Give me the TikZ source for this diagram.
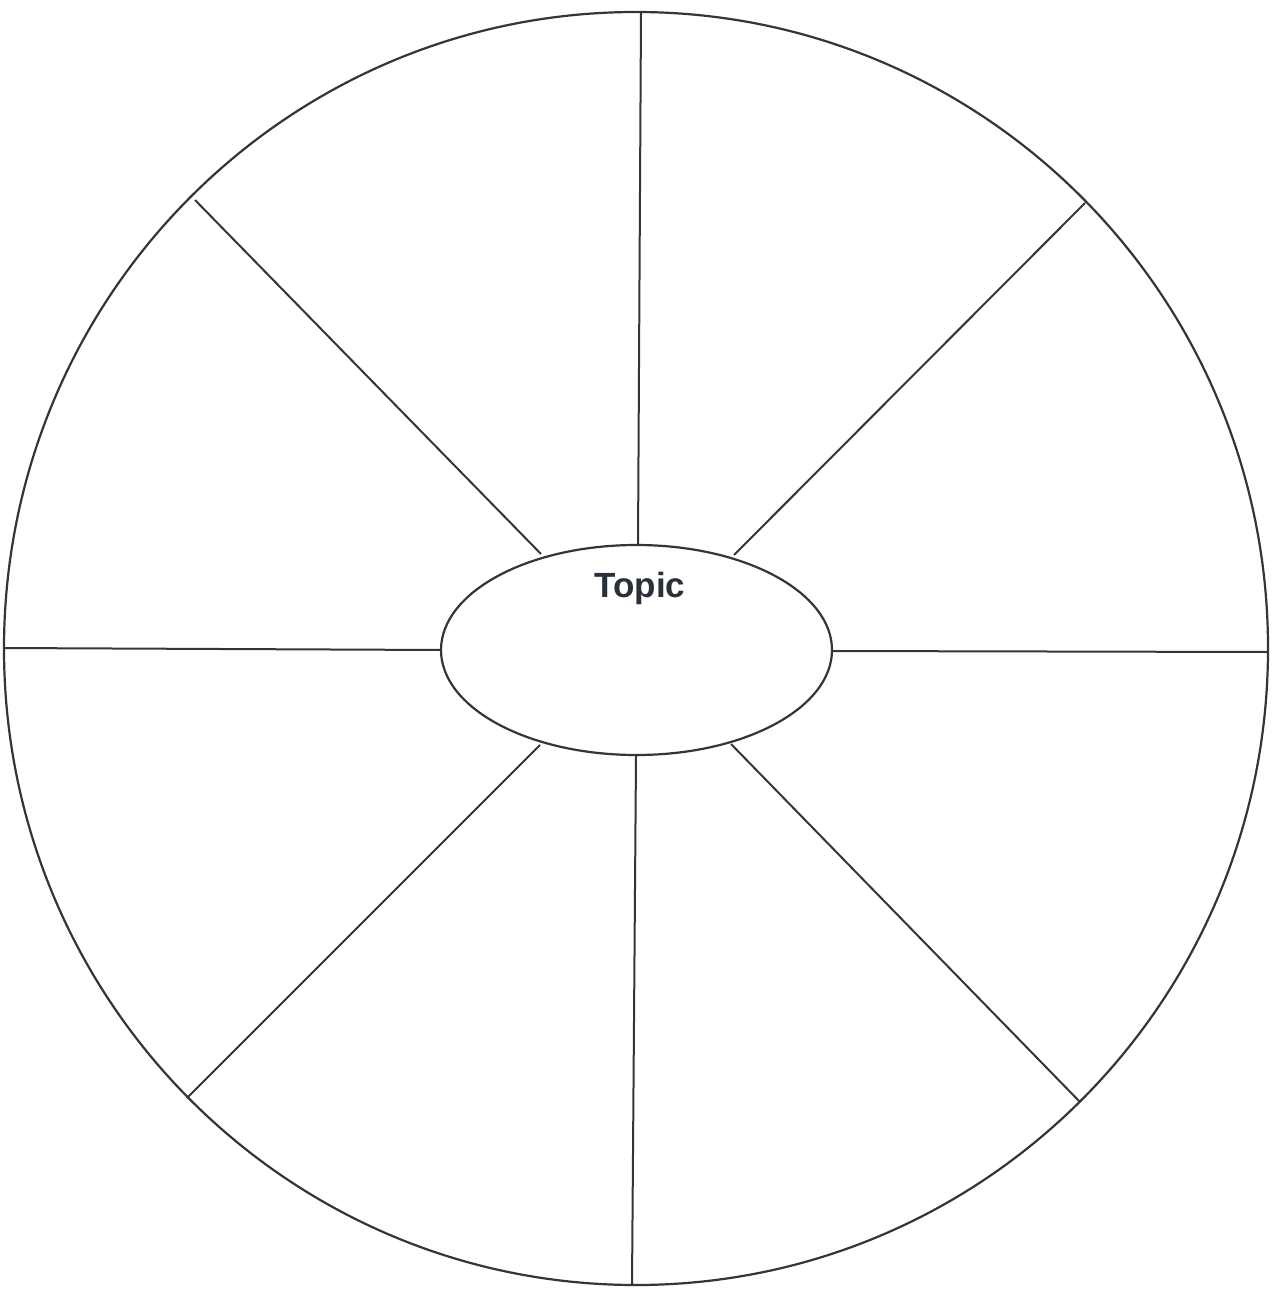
\documentclass[tikz,border=0pt]{standalone}
\usepackage{fontspec}
\setmainfont{Liberation Sans}
\usetikzlibrary{shapes.geometric}
\definecolor{ink}{HTML}{333538}
\definecolor{txt}{HTML}{2A303A}
\tikzset{
  wheel/.style={draw=ink, line width=2.2pt},
  spoke/.style={draw=ink, line width=2pt},
  hub/.style={ellipse, draw=ink, line width=2.2pt, minimum width=391pt, minimum height=210pt, inner sep=0pt},
  lbl/.style={font=\bfseries\fontsize{35}{40}\selectfont, text=txt, inner sep=0pt}
}
\begin{document}
\begin{tikzpicture}[x=1pt,y=-1pt]
\useasboundingbox (0,0) rectangle (1274,1289);
\fill[white] (0,0) rectangle (1274,1289);
\draw[wheel] (636,648.5) ellipse [x radius=632, y radius=636.5];
\node[hub] (topic) at (636.5,650) {};
\node[lbl] (topiclabel) at (640,588) {Topic};
% outer ends
\coordinate (oN) at (641,12);
\coordinate (oS) at (632,1285);
\coordinate (oW) at (4,648);
\coordinate (oE) at (1268,652);
\coordinate (oNW) at (195,200);
\coordinate (oNE) at (1085,203);
\coordinate (oSW) at (187,1098);
\coordinate (oSE) at (1080,1102);
% inner ends
\coordinate (iN) at (638,544);
\coordinate (iS) at (636,756);
\coordinate (iW) at (441,650);
\coordinate (iE) at (832,651);
\coordinate (iNW) at (541,554);
\coordinate (iNE) at (734,555);
\coordinate (iSW) at (540,745);
\coordinate (iSE) at (731,744);
\foreach \d in {N,S,W,E,NW,NE,SW,SE}{
  \draw[spoke] (o\d) -- (i\d);
}
\end{tikzpicture}
\end{document}
